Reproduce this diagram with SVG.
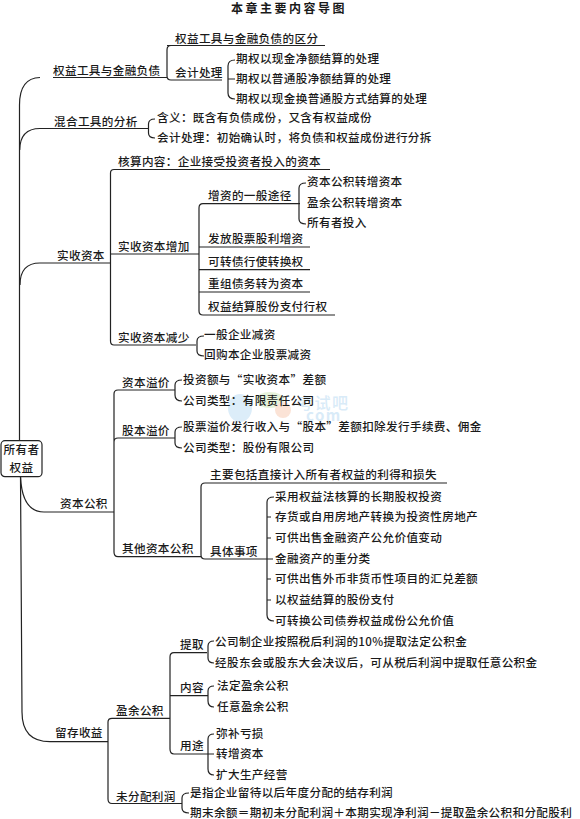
<svg xmlns="http://www.w3.org/2000/svg" width="580" height="819" viewBox="0 0 580 819">
<style>
text{font-family:"Noto Sans CJK SC","Noto Sans CJK JP",sans-serif;font-size:11.6px;letter-spacing:.35px;font-weight:500;fill:#1a1a1a}
.t{font-size:12px;letter-spacing:2.5px;font-weight:700}
.c{text-anchor:middle}
#connectors path{fill:none;stroke:#222;stroke-width:1.2}
</style>
<rect width="580" height="819" fill="#fff"/>
<g id="watermark">
<ellipse cx="240" cy="408" rx="12" ry="14" fill="#dcedf9"/><ellipse cx="270" cy="400" rx="14" ry="8" fill="#e6f2da"/><circle cx="283" cy="410" r="8" fill="#fbe3d6"/>
<text x="297" y="409" style="font-size:16px;letter-spacing:1.500px;fill:#d9ebf8">考试吧</text>
<text x="306" y="421" style="font-size:15px;letter-spacing:1.500px;font-weight:700;fill:#d9ebf8">com</text>
</g>
<g id="connectors">
<path d="M167 45.500H325M171 45.500Q167 45.500 167 50V76Q167 80 171 80H222M53 77.500H167M40 77.500Q19.500 78 19.500 105V441"/>
<path d="M235 60Q228 60 228 66V93Q228 99 235 99M228 79H235"/>
<path d="M19.700 150Q20 128.500 40 128.500H148M155 119Q148.500 119 148.500 124V133Q148.500 138 155 138"/>
<path d="M330 169.500H114Q110.500 169.500 110.500 173V341Q110.500 345 114 345H196"/>
<path d="M20 285Q20 263 40 263H110.500M110.500 254H199"/>
<path d="M300 203.700H203Q199 203.700 199 208V311Q199 315 203 315H335M199 247H310M199 269.700H310M199 292H310"/>
<path d="M306 183Q299 183 299 188V219Q299 224 306 224"/>
<path d="M204 336Q197 336 197 341V351Q197 356 204 356"/>
<path d="M20.500 476.500Q22 512 44 512H114M175 390H118Q114 390 114 394V552Q114 556.700 118 556.700H201M175 438H118Q114 438 114 442"/>
<path d="M182 380Q175 380 175 385V395Q175 401 182 401M182 427Q175 427 175 432V443Q175 448 182 448"/>
<path d="M447 483H205Q201 483 201 487V555Q201 559 205 559H267"/>
<path d="M274 497Q267 497 267 502V615Q267 621 274 621M267 517H271M267 538H271M267 559H273M267 579H271M267 600H271"/>
<path d="M20.500 476.500L22 712Q22 741.700 50 741.700H108M170 718.300H112Q108 718.300 108 722V799Q108 803.500 112 803.500H182"/>
<path d="M207 652.700H174Q170 652.700 170 657V749Q170 754 174 754H208M170 695.700H208"/>
<path d="M214 641Q208 641 208 646V658Q208 663 214 663M214 686Q208 686 208 691V701Q208 707 214 707M214 734Q208 734 208 739V769Q208 775 214 775M208 754H214"/>
<path d="M189 793Q182 793 182 798V808Q182 813 189 813"/>
</g>
<g id="title"><text class="t" x="231" y="13">本章主要内容导图</text></g>
<g id="root"><rect x="1" y="440.700" width="41" height="36" rx="4" fill="#fff" stroke="#222" stroke-width="1.2"/><text class="c" x="21.500" y="454">所有者</text><text class="c" x="21.500" y="472">权益</text></g>
<g id="n1"><text x="53" y="75">权益工具与金融负债</text></g>
<g id="n1a"><text x="175" y="43">权益工具与金融负债的区分</text></g>
<g id="n1b"><text x="175" y="77">会计处理</text></g>
<g id="n1b1"><text x="236" y="63">期权以现金净额结算的处理</text></g>
<g id="n1b2"><text x="236" y="83">期权以普通股净额结算的处理</text></g>
<g id="n1b3"><text x="236" y="103">期权以现金换普通股方式结算的处理</text></g>
<g id="n2"><text x="54" y="126">混合工具的分析</text></g>
<g id="n2a"><text x="157" y="122">含义：既含有负债成份，又含有权益成份</text></g>
<g id="n2b"><text x="157" y="142">会计处理：初始确认时，将负债和权益成份进行分拆</text></g>
<g id="n3"><text x="57" y="260">实收资本</text></g>
<g id="n3a"><text x="118" y="166">核算内容：企业接受投资者投入的资本</text></g>
<g id="n3b"><text x="118" y="251">实收资本增加</text></g>
<g id="n3b1"><text x="208" y="200">增资的一般途径</text></g>
<g id="n3b1a"><text x="307" y="186">资本公积转增资本</text></g>
<g id="n3b1b"><text x="307" y="207">盈余公积转增资本</text></g>
<g id="n3b1c"><text x="307" y="227">所有者投入</text></g>
<g id="n3b2"><text x="208" y="243">发放股票股利增资</text></g>
<g id="n3b3"><text x="208" y="266">可转债行使转换权</text></g>
<g id="n3b4"><text x="208" y="288">重组债务转为资本</text></g>
<g id="n3b5"><text x="208" y="311">权益结算股份支付行权</text></g>
<g id="n3c"><text x="118" y="342">实收资本减少</text></g>
<g id="n3c1"><text x="204" y="339">一般企业减资</text></g>
<g id="n3c2"><text x="204" y="359">回购本企业股票减资</text></g>
<g id="n4"><text x="60" y="508">资本公积</text></g>
<g id="n4a"><text x="122" y="387">资本溢价</text></g>
<g id="n4a1"><text x="183" y="384">投资额与“实收资本”差额</text></g>
<g id="n4a2"><text x="183" y="405">公司类型：有限责任公司</text></g>
<g id="n4b"><text x="122" y="435">股本溢价</text></g>
<g id="n4b1"><text x="183" y="431">股票溢价发行收入与“股本”差额扣除发行手续费、佣金</text></g>
<g id="n4b2"><text x="183" y="452">公司类型：股份有限公司</text></g>
<g id="n4c"><text x="122" y="553">其他资本公积</text></g>
<g id="n4c1"><text x="210" y="479">主要包括直接计入所有者权益的利得和损失</text></g>
<g id="n4c2"><text x="210" y="556">具体事项</text></g>
<g id="n4c2a"><text x="275" y="501">采用权益法核算的长期股权投资</text></g>
<g id="n4c2b"><text x="275" y="521">存货或自用房地产转换为投资性房地产</text></g>
<g id="n4c2c"><text x="275" y="542">可供出售金融资产公允价值变动</text></g>
<g id="n4c2d"><text x="275" y="563">金融资产的重分类</text></g>
<g id="n4c2e"><text x="275" y="583">可供出售外币非货币性项目的汇兑差额</text></g>
<g id="n4c2f"><text x="275" y="604">以权益结算的股份支付</text></g>
<g id="n4c2g"><text x="275" y="625">可转换公司债券权益成份公允价值</text></g>
<g id="n5"><text x="55" y="737">留存收益</text></g>
<g id="n5a"><text x="116" y="715">盈余公积</text></g>
<g id="n5a1"><text x="180" y="649">提取</text></g>
<g id="n5a1a"><text x="215" y="646">公司制企业按照税后利润的10%提取法定公积金</text></g>
<g id="n5a1b"><text x="215" y="667">经股东会或股东大会决议后，可从税后利润中提取任意公积金</text></g>
<g id="n5a2"><text x="180" y="692">内容</text></g>
<g id="n5a2a"><text x="217" y="690">法定盈余公积</text></g>
<g id="n5a2b"><text x="217" y="711">任意盈余公积</text></g>
<g id="n5a3"><text x="180" y="750">用途</text></g>
<g id="n5a3a"><text x="216" y="738">弥补亏损</text></g>
<g id="n5a3b"><text x="216" y="758">转增资本</text></g>
<g id="n5a3c"><text x="216" y="779">扩大生产经营</text></g>
<g id="n5b"><text x="116" y="801">未分配利润</text></g>
<g id="n5b1"><text x="190" y="797">是指企业留待以后年度分配的结存利润</text></g>
<g id="n5b2"><text x="190" y="817">期末余额＝期初未分配利润＋本期实现净利润－提取盈余公积和分配股利</text></g>
</svg>
